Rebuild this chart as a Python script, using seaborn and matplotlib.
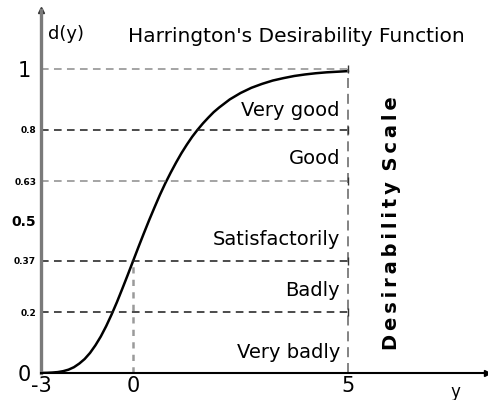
# Harrington's desirability function - schematic chart
import numpy as np
import pandas as pd
import matplotlib.pyplot as plt
from matplotlib.transforms import ScaledTranslation
import seaborn as sns

# curve (y -> d(y))
y_vals = [-2.1, -2.0, -1.875, -1.75, -1.625, -1.5, -1.375, -1.25, -1.125, -1.0,
          -0.875, -0.75, -0.625, -0.5, -0.375, -0.25, -0.125, 0.0, 0.125, 0.25,
          0.375, 0.5, 0.625, 0.75, 0.875, 1.0, 1.125, 1.25, 1.375, 1.5,
          1.625, 1.75, 1.875, 2.0, 2.25, 2.5, 2.75, 3.0, 3.25, 3.5,
          3.75, 4.0, 4.25, 4.5, 4.75, 5.0]
d_vals = [0.0003, 0.0006, 0.0015, 0.003, 0.006, 0.011, 0.019, 0.031, 0.046, 0.066,
          0.091, 0.12, 0.154, 0.192, 0.233, 0.277, 0.322, 0.368, 0.414, 0.459,
          0.503, 0.545, 0.586, 0.624, 0.659, 0.692, 0.723, 0.751, 0.777, 0.8,
          0.821, 0.84, 0.858, 0.873, 0.9, 0.921, 0.938, 0.951, 0.962, 0.97,
          0.977, 0.982, 0.986, 0.989, 0.991, 0.993]

# scale boundaries and grade names
levels = [1.0, 0.8, 0.63, 0.37, 0.2]
grades = ['Very good', 'Good', 'Satisfactorily', 'Badly', 'Very badly']

ytick_vals = [0, 0.2, 0.37, 0.5, 0.63, 0.8, 1]
ytick_labels = ['0', '0.2', '0.37', '0.5', '0.63', '0.8', '1']
xtick_labels = ['-3', '0', '5']

sns.set_style('white')
plt.rcParams['font.family'] = ['DejaVu Sans']
plt.rcParams['text.color'] = 'black'
plt.rcParams['xtick.color'] = 'black'
plt.rcParams['ytick.color'] = 'black'

fig = plt.figure(figsize=(4.88, 4.0), dpi=100)
ax = fig.add_axes([41 / 488, 27 / 400, 446 / 488, 363 / 400])
x0, x1 = -2.14, 8.23
ax.set_xlim(x0, x1)
ax.set_ylim(0, 1.194)

df = pd.DataFrame({'y': y_vals, 'd': d_vals})
sns.lineplot(data=df, x='y', y='d', color='black', lw=1.8, ax=ax)

# dashed guide lines
dash = (0, (5, 3.5))
line_cols = ['#8c8c8c', '#1a1a1a', '#8c8c8c', '#1a1a1a', '#1a1a1a']
for lv, c in zip(levels, line_cols):
    ax.plot([x0, 5], [lv, lv], color=c, lw=1.1, ls=dash)
ax.plot([5, 5], [0, 1], color='#6e6e6e', lw=1.2, ls=(0, (6, 3.5)))
ax.plot([0, 0], [0, levels[3]], color='#9a9a9a', lw=1.8, ls=(0, (2.5, 2.5)))
ax.plot([5] * len(levels), levels, ls='none', marker='|', ms=6, mew=1, color='#333333')

# grade labels
grade_y = [0.865, 0.707, 0.4375, 0.273, 0.066]
for g, gy in zip(grades, grade_y):
    ax.text(4.81, gy, g, ha='right', va='center', fontsize=14)

ax.text(6.02, 0.493, '\u2009'.join('Desirability') + ' \u2009' + '\u2009'.join('Scale'),
        rotation=90, ha='center', va='center', fontsize=14, fontweight='bold')

ax.text(3.79, 1.09, "Harrington's Desirability Function", ha='center', va='baseline', fontsize=14.5)
ax.text(-1.98, 1.099, 'd(y)', ha='left', va='baseline', fontsize=13)
ax.text(7.49, -0.0625, 'y', ha='center', va='center', fontsize=12, clip_on=False)

# axes styling
sns.despine(ax=ax)
ax.spines['left'].set_color('#7a7a7a')
ax.spines['left'].set_linewidth(2.4)
ax.spines['bottom'].set_color('black')
ax.spines['bottom'].set_linewidth(1.5)
ax.plot(1, 0, '>', ms=5, color='black', transform=ax.transAxes, clip_on=False)
ax.plot(0, 1, '^', ms=4, color='#333333', transform=ax.transAxes, clip_on=False)

ax.set_yticks(ytick_vals)
ax.set_yticklabels(ytick_labels)
ax.set_xticks([x0, 0, 5])
ax.set_xticklabels(xtick_labels)
ax.tick_params(axis='y', length=3, width=2, direction='inout', color='black', pad=2)
ax.tick_params(axis='x', length=3, width=1.5, direction='inout', color='black', pad=1, labelsize=15)
ax.set_xlabel('')
ax.set_ylabel('')

for lab in ax.get_yticklabels():
    t = lab.get_text()
    if t in ('0', '1'):
        lab.set_fontsize(15)
        lab.set_transform(lab.get_transform() + ScaledTranslation(-5 / 100, 0, fig.dpi_scale_trans))
    elif t == '0.5':
        lab.set_fontsize(10)
        lab.set_fontweight('bold')
    else:
        lab.set_fontsize(6.5)
        lab.set_fontweight('bold')

fig.savefig('out.png', dpi=100)
